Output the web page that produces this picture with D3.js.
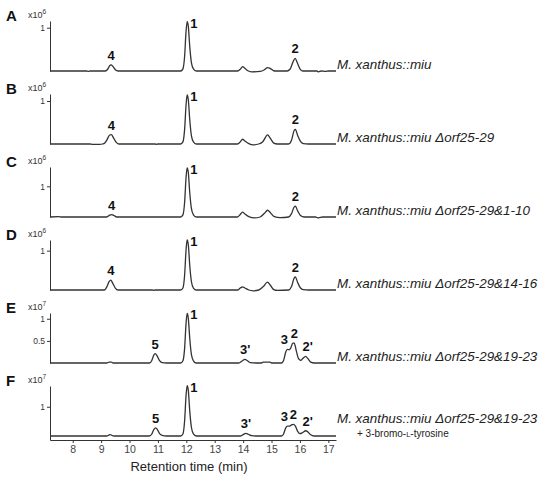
<!DOCTYPE html>
<html>
<head>
<meta charset="utf-8">
<script src="https://cdn.jsdelivr.net/npm/d3@7"></script>
<style>
body { margin: 0; background: #fff; }
svg text { font-family: "Liberation Sans", Arial, sans-serif; }
</style>
</head>
<body>
<svg id="chart" width="550" height="479"></svg>
<script>
// panel setup
var panelLetters = ['A', 'B', 'C', 'D', 'E', 'F'];
var exponents = [6, 6, 6, 6, 7, 7];
var yTicks = [[1], [1], [1], [1], [0.5, 1], [1]];
var yMax = [1.155, 1.163, 1.63, 1.27, 1.13, 1.71];
var xTicks = [8, 9, 10, 11, 12, 13, 14, 15, 16, 17];
var strains = [
    'M. xanthus::miu',
    'M. xanthus::miu \u0394orf25-29',
    'M. xanthus::miu \u0394orf25-29&1-10',
    'M. xanthus::miu \u0394orf25-29&14-16',
    'M. xanthus::miu \u0394orf25-29&19-23',
    'M. xanthus::miu \u0394orf25-29&19-23'
];
var supplement = ['+ 3-bromo-', 'L', '-tyrosine'];

// chromatogram traces: [retention time (min), intensity]
var traceA = [
    [7.2, 0], [8.5, 0], [8.55, -0.01], [8.6, 0], [9.15, 0], [9.23, 0.04], [9.3, 0.12], [9.35, 0.14], [9.41, 0.11], [9.5, 0.03], [9.6, 0],
    [11.8, 0], [11.88, 0.05], [11.94, 0.34], [11.99, 0.91], [12.03, 1.14], [12.07, 1.03], [12.12, 0.57], [12.18, 0.19], [12.25, 0.05], [12.35, 0],
    [13.8, 0], [13.9, 0.04], [13.98, 0.1], [14.05, 0.07], [14.15, 0.01], [14.3, -0.02], [14.6, -0.01], [14.75, 0.03], [14.86, 0.08], [14.95, 0.06], [15.1, 0],
    [15.55, 0], [15.65, 0.04], [15.75, 0.2], [15.83, 0.29], [15.9, 0.2], [16.0, 0.05], [16.1, 0], [16.6, 0], [16.65, -0.02], [16.75, 0], [16.9, -0.01], [17.0, 0], [17.27, 0]
];
var traceB = [
    [7.2, 0], [8.6, 0], [8.7, -0.01], [8.95, -0.01], [9.05, 0], [9.12, 0.02], [9.2, 0.09], [9.3, 0.21], [9.36, 0.22], [9.43, 0.15], [9.52, 0.05], [9.62, 0],
    [10.9, 0], [10.95, -0.01], [11.0, 0],
    [11.8, 0], [11.88, 0.05], [11.94, 0.34], [11.99, 0.9], [12.03, 1.14], [12.07, 1.03], [12.12, 0.57], [12.18, 0.19], [12.25, 0.05], [12.35, 0],
    [13.8, 0], [13.9, 0.05], [13.98, 0.11], [14.06, 0.07], [14.2, 0.01], [14.35, -0.02], [14.55, 0], [14.7, 0.06], [14.86, 0.21], [14.96, 0.13], [15.08, 0.02], [15.2, 0],
    [15.6, 0], [15.7, 0.08], [15.8, 0.32], [15.84, 0.34], [15.92, 0.2], [16.02, 0.06], [16.12, 0.01], [16.3, 0], [17.27, 0]
];
var traceC = [
    [7.2, 0], [7.5, 0.01], [7.6, 0], [9.2, 0], [9.3, 0.06], [9.37, 0.08], [9.45, 0.05], [9.55, 0],
    [11.8, 0], [11.88, 0.07], [11.94, 0.48], [11.99, 1.28], [12.03, 1.6], [12.07, 1.45], [12.12, 0.8], [12.18, 0.27], [12.25, 0.07], [12.35, 0],
    [13.8, 0], [13.9, 0.08], [13.98, 0.16], [14.06, 0.1], [14.2, 0.01], [14.4, -0.03], [14.6, 0], [14.75, 0.12], [14.86, 0.22], [14.96, 0.14], [15.1, 0.01], [15.3, -0.02],
    [15.6, 0], [15.7, 0.1], [15.8, 0.33], [15.84, 0.35], [15.92, 0.2], [16.02, 0.05], [16.15, 0], [16.55, 0], [16.65, -0.03], [16.8, 0], [17.27, 0]
];
var traceD = [
    [7.2, 0], [9.12, 0], [9.2, 0.08], [9.28, 0.21], [9.34, 0.25], [9.41, 0.17], [9.5, 0.05], [9.6, 0], [10.8, 0], [10.85, -0.01], [10.9, 0],
    [11.8, 0], [11.88, 0.05], [11.94, 0.38], [11.99, 1.01], [12.03, 1.27], [12.07, 1.15], [12.12, 0.63], [12.18, 0.21], [12.25, 0.05], [12.35, 0],
    [13.8, 0], [13.9, 0.05], [13.98, 0.08], [14.06, 0.05], [14.2, 0], [14.35, -0.02], [14.55, 0], [14.7, 0.08], [14.86, 0.2], [14.96, 0.12], [15.08, 0.01], [15.2, -0.01],
    [15.6, 0], [15.7, 0.08], [15.8, 0.31], [15.84, 0.33], [15.92, 0.19], [16.02, 0.05], [16.12, 0.01], [16.3, 0], [17.27, 0]
];
var traceE = [
    [7.2, 0], [9.2, 0], [9.28, 0.02], [9.36, 0.02], [9.42, 0],
    [10.7, 0], [10.78, 0.05], [10.85, 0.17], [10.9, 0.21], [10.97, 0.16], [11.05, 0.06], [11.15, 0.01], [11.3, 0],
    [11.8, 0], [11.88, 0.05], [11.94, 0.33], [11.99, 0.89], [12.03, 1.12], [12.07, 1.01], [12.12, 0.56], [12.18, 0.19], [12.25, 0.05], [12.35, 0],
    [13.85, 0], [13.95, 0.04], [14.07, 0.08], [14.15, 0.05], [14.25, 0.01], [14.45, 0], [14.65, 0], [14.7, 0.02], [14.95, 0.02], [15.0, 0],
    [15.35, 0], [15.42, 0.05], [15.5, 0.25], [15.56, 0.31], [15.62, 0.3], [15.67, 0.33], [15.75, 0.45], [15.8, 0.45], [15.87, 0.28], [15.95, 0.1],
    [16.03, 0.06], [16.1, 0.1], [16.2, 0.15], [16.28, 0.1], [16.38, 0.02], [16.5, 0], [17.27, 0]
];
var traceF = [
    [7.2, 0], [9.2, 0], [9.27, 0.03], [9.32, 0.05], [9.38, 0.02], [9.45, 0],
    [10.7, 0], [10.78, 0.06], [10.86, 0.23], [10.92, 0.28], [10.98, 0.22], [11.06, 0.08], [11.15, 0.02], [11.3, 0],
    [11.8, 0], [11.88, 0.07], [11.94, 0.52], [11.99, 1.38], [12.03, 1.72], [12.07, 1.56], [12.12, 0.86], [12.18, 0.29], [12.25, 0.07], [12.35, 0],
    [13.9, 0], [14.0, 0.05], [14.1, 0.09], [14.18, 0.06], [14.3, 0.01], [14.45, 0],
    [15.35, 0], [15.42, 0.06], [15.5, 0.28], [15.56, 0.34], [15.64, 0.34], [15.7, 0.38], [15.77, 0.4], [15.84, 0.34], [15.92, 0.16],
    [16.0, 0.08], [16.1, 0.12], [16.2, 0.18], [16.28, 0.14], [16.38, 0.04], [16.5, 0], [17.27, 0]
];
var traces = [traceA, traceB, traceC, traceD, traceE, traceF];

// peak labels: [label, time, height]
var peaksA = [['4', 9.35, 0.14], ['1', 12.03, 1.14], ['2', 15.83, 0.29]];
var peaksB = [['4', 9.36, 0.22], ['1', 12.03, 1.14], ['2', 15.84, 0.34]];
var peaksC = [['4', 9.37, 0.08], ['1', 12.03, 1.6], ['2', 15.84, 0.35]];
var peaksD = [['4', 9.34, 0.25], ['1', 12.03, 1.27], ['2', 15.84, 0.33]];
var peaksE = [['5', 10.9, 0.21], ['1', 12.03, 1.12], ["3'", 14.07, 0.08], ['3', 15.56, 0.31], ['2', 15.8, 0.45], ["2'", 16.2, 0.15]];
var peaksF = [['5', 10.92, 0.28], ['1', 12.03, 1.72], ["3'", 14.1, 0.09], ['3', 15.56, 0.34], ['2', 15.77, 0.4], ["2'", 16.2, 0.18]];
var peaks = [peaksA, peaksB, peaksC, peaksD, peaksE, peaksF];

var labelNudge = { '3': -3, "2'": 2 };

var svg = d3.select('#chart');
var x = d3.scaleLinear().domain([7.2, 17.27]).range([50, 336]);
var PANEL_H = 50;

traces.forEach(function (trace, i) {
    var base = 71 + i * 73;
    var top = base - PANEL_H;
    var last = i === traces.length - 1;
    var y = d3.scaleLinear().domain([0, yMax[i]]).range([base, top]);
    var g = svg.append('g');

    // y axis (last panel runs down to the time axis)
    var bottom = last ? base + 4 : base;
    var axisScale = d3.scaleLinear().domain([y.invert(bottom), yMax[i]]).range([bottom, top]);
    var yAxis = g.append('g')
        .attr('transform', 'translate(50,0)')
        .call(d3.axisLeft(axisScale).tickValues(yTicks[i]).tickSize(3).tickSizeOuter(0).tickFormat(d3.format('')));
    yAxis.select('.domain').attr('stroke', '#333');
    yAxis.selectAll('.tick line').attr('stroke', '#333');
    yAxis.selectAll('.tick text')
        .attr('font-size', 8.5)
        .attr('fill', '#333')
        .attr('x', -5)
        .style('font-family', '"Liberation Sans", Arial, sans-serif');

    g.append('path')
        .datum(trace)
        .attr('fill', 'none')
        .attr('stroke', '#333')
        .attr('stroke-width', 1.3)
        .attr('stroke-linejoin', 'round')
        .attr('d', d3.line()
            .x(function (d) { return x(d[0]); })
            .y(function (d) { return y(d[1]); })
            .curve(d3.curveMonotoneX));

    g.append('text')
        .attr('x', 6)
        .attr('y', top)
        .attr('font-size', 15)
        .attr('font-weight', 'bold')
        .attr('fill', '#111')
        .text(panelLetters[i]);

    var mult = g.append('text')
        .attr('x', 28)
        .attr('y', top - 3)
        .attr('font-size', 9)
        .attr('fill', '#333')
        .text('x10');
    mult.append('tspan')
        .attr('dy', -4)
        .attr('font-size', 6.5)
        .text(exponents[i]);

    g.selectAll('.peak')
        .data(peaks[i])
        .enter().append('text')
        .attr('class', 'peak')
        .attr('font-size', 13)
        .attr('font-weight', 'bold')
        .attr('fill', '#111')
        .attr('text-anchor', function (d) { return d[0] === '1' ? 'start' : 'middle'; })
        .attr('x', function (d) {
            if (d[0] === '1') return x(d[1]) + 3;
            return x(d[1]) + (labelNudge[d[0]] || 0);
        })
        .attr('y', function (d) {
            return d[0] === '1' ? y(d[2]) + 6 : y(d[2]) - 5;
        })
        .text(function (d) { return d[0]; });

    g.append('text')
        .attr('x', 337)
        .attr('y', last ? base - 13 : base - 2)
        .attr('font-size', 13.4)
        .attr('font-style', 'italic')
        .attr('fill', '#222')
        .text(strains[i]);

    if (last) {
        var sup = g.append('text')
            .attr('x', 357)
            .attr('y', base + 1)
            .attr('font-size', 10)
            .attr('fill', '#222');
        sup.append('tspan').text(supplement[0]);
        sup.append('tspan').attr('font-size', 7.5).text(supplement[1]);
        sup.append('tspan').text(supplement[2]);

        var xAxis = svg.append('g')
            .attr('transform', 'translate(0,' + bottom + ')')
            .call(d3.axisBottom(x).tickValues(xTicks).tickSize(3).tickSizeOuter(0));
        xAxis.select('.domain').attr('stroke', '#333');
        xAxis.selectAll('.tick line').attr('stroke', '#333');
        xAxis.selectAll('.tick text')
            .attr('font-size', 10.5)
            .attr('fill', '#444')
            .attr('y', 6)
            .style('font-family', '"Liberation Sans", Arial, sans-serif');

        svg.append('text')
            .attr('x', 189)
            .attr('y', 471)
            .attr('text-anchor', 'middle')
            .attr('font-size', 13)
            .attr('fill', '#222')
            .text('Retention time (min)');
    }
});
</script>
</body>
</html>
